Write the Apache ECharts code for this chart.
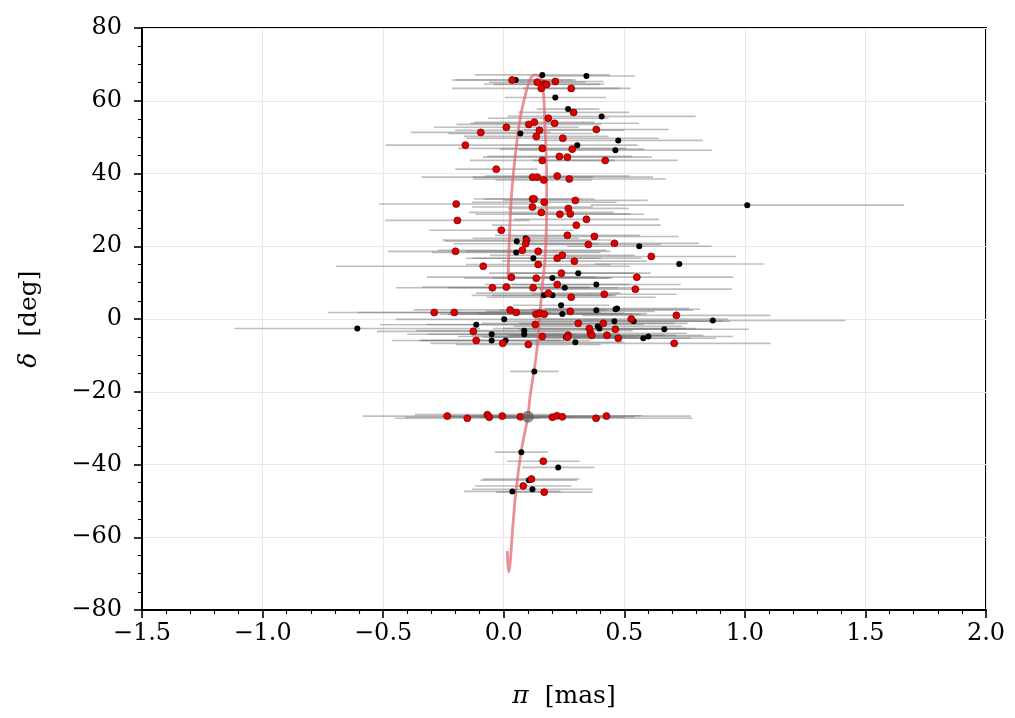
<!DOCTYPE html>
<html>
<head>
<meta charset="utf-8">
<script src="https://cdn.jsdelivr.net/npm/echarts@6/dist/echarts.min.js"></script>
<style>
  html, body { margin: 0; padding: 0; background: #fff; }
  #chart { width: 1015px; height: 718px; }
</style>
</head>
<body>
<div id="chart"></div>
<script>
// [parallax, declination, parallax error]
const blackStars = [
  [0.05, 65.7, 0.25], [0.16, 67.1, 0.28], [0.343, 66.8, 0.20], [0.214, 60.9, 0.21],
  [0.267, 57.7, 0.13], [0.406, 55.7, 0.39], [0.069, 51.0, 0.30], [0.475, 49.1, 0.35],
  [0.305, 47.8, 0.25], [0.463, 46.4, 0.40], [0.091, 22.2, 0.22], [0.054, 21.4, 0.30],
  [0.562, 20.0, 0.30], [0.052, 18.3, 0.35], [0.123, 16.7, 0.28], [0.728, 15.1, 0.35],
  [0.309, 12.6, 0.30], [0.202, 11.3, 0.25], [0.384, 9.5, 0.35], [0.253, 8.6, 0.30],
  [0.167, 6.5, 0.30], [0.202, 6.5, 0.25], [0.238, 3.8, 0.20], [0.243, 1.4, 0.35],
  [0.384, 2.4, 0.40], [0.464, 2.7, 0.35], [0.47, 2.9, 0.30], [0.539, -0.6, 0.40],
  [0.459, -0.6, 0.45], [-0.607, -2.6, 0.51], [-0.114, -1.6, 0.40], [0.002, -0.1, 0.45],
  [0.39, -2.0, 0.35], [0.397, -2.6, 0.40], [0.666, -2.8, 0.35], [-0.05, -4.2, 0.35],
  [0.085, -3.2, 0.45], [0.085, -4.2, 0.40], [0.258, -5.0, 0.30], [0.579, -5.3, 0.30],
  [0.6, -4.8, 0.35], [-0.05, -5.9, 0.30], [0.008, -5.9, 0.35], [0.297, -6.4, 0.20],
  [0.127, -14.4, 0.10], [0.867, -0.4, 0.55], [1.01, 31.3, 0.65], [0.073, -36.6, 0.11],
  [0.226, -40.8, 0.15], [0.104, -44.3, 0.20], [0.119, -46.8, 0.25], [0.036, -47.4, 0.20]
];

const redStars = [
  [0.035, 65.7, 0.25], [0.139, 65.1, 0.20], [0.167, 64.6, 0.25], [0.178, 64.5, 0.22],
  [0.214, 65.3, 0.20], [0.156, 63.4, 0.37], [0.28, 63.4, 0.20], [0.29, 56.8, 0.23],
  [0.185, 55.2, 0.25], [0.104, 53.5, 0.30], [0.127, 54.1, 0.25], [0.211, 53.8, 0.35],
  [0.011, 52.7, 0.30], [-0.095, 51.3, 0.29], [0.148, 51.9, 0.35], [0.135, 50.2, 0.30],
  [0.384, 52.1, 0.30], [0.245, 49.7, 0.40], [-0.159, 47.8, 0.33], [0.284, 46.7, 0.30],
  [0.16, 46.9, 0.35], [0.231, 44.7, 0.30], [0.264, 44.5, 0.35], [0.16, 43.6, 0.30],
  [0.421, 43.6, 0.30], [-0.031, 41.2, 0.17], [0.12, 39.0, 0.25], [0.139, 39.0, 0.48],
  [0.166, 38.2, 0.20], [0.222, 39.3, 0.30], [0.272, 38.5, 0.40], [-0.197, 31.6, 0.32],
  [0.12, 33.0, 0.20], [0.126, 33.0, 0.25], [0.297, 32.6, 0.30], [0.119, 30.8, 0.25],
  [0.168, 32.1, 0.30], [0.268, 30.4, 0.25], [0.156, 29.3, 0.30], [0.233, 28.8, 0.35],
  [0.276, 28.9, 0.25], [-0.192, 27.1, 0.30], [0.343, 27.4, 0.30], [0.301, 25.8, 0.35],
  [-0.01, 24.4, 0.30], [0.264, 23.0, 0.30], [0.376, 22.7, 0.35], [0.095, 21.7, 0.35],
  [0.091, 20.7, 0.30], [0.351, 20.5, 0.30], [0.459, 20.8, 0.35], [-0.2, 18.6, 0.28],
  [0.077, 18.9, 0.35], [0.143, 18.6, 0.30], [0.222, 16.7, 0.35], [0.243, 17.5, 0.30],
  [0.293, 15.9, 0.30], [0.612, 17.2, 0.35], [-0.085, 14.5, 0.61], [0.143, 15.0, 0.30],
  [0.239, 12.6, 0.30], [0.032, 11.5, 0.35], [0.135, 11.2, 0.30], [0.552, 11.5, 0.40],
  [0.222, 9.5, 0.30], [-0.047, 8.6, 0.40], [0.011, 8.8, 0.35], [0.122, 8.6, 0.35],
  [0.546, 8.2, 0.40], [0.417, 6.8, 0.30], [0.185, 7.1, 0.30], [0.28, 6.0, 0.35],
  [-0.288, 1.8, 0.44], [-0.205, 1.8, 0.40], [0.027, 2.5, 0.40], [0.052, 1.8, 0.35],
  [0.134, 1.3, 0.40], [0.149, 1.6, 0.35], [0.168, 1.3, 0.40], [0.276, 2.1, 0.35],
  [0.716, 1.0, 0.39], [0.529, 0.0, 0.40], [0.131, -1.5, 0.45], [0.309, -1.2, 0.40],
  [0.413, -1.2, 0.35], [0.355, -2.6, 0.40], [0.463, -2.8, 0.40], [-0.126, -3.4, 0.40],
  [0.16, -4.8, 0.35], [0.267, -4.5, 0.40], [0.264, -5.0, 0.35], [0.36, -3.9, 0.40],
  [0.365, -4.5, 0.35], [0.428, -4.5, 0.40], [0.475, -5.3, 0.30], [0.707, -6.7, 0.40],
  [-0.114, -5.9, 0.35], [-0.004, -6.7, 0.30], [0.102, -7.0, 0.30], [-0.234, -26.7, 0.35],
  [-0.151, -27.3, 0.30], [-0.068, -26.3, 0.30], [-0.06, -27.0, 0.35], [-0.006, -26.7, 0.25],
  [0.069, -26.9, 0.30], [0.202, -27.0, 0.30], [0.221, -26.6, 0.35], [0.243, -26.9, 0.30],
  [0.383, -27.3, 0.40], [0.426, -26.7, 0.35], [0.164, -39.1, 0.15], [0.115, -44.0, 0.20],
  [0.081, -45.9, 0.20], [0.168, -47.6, 0.20]
];

// expected parallax track vs declination
const trackPoints = [
  [0.015, -63.8], [0.020, -69.6], [0.040, -55.3], [0.047, -49.8], [0.072, -36.6],
  [0.100, -26.9], [0.109, -21.4], [0.134, -10.4], [0.148, -1.1], [0.158, 8.0],
  [0.171, 16.2], [0.178, 30.0], [0.178, 39.0], [0.171, 52.8], [0.158, 65.7],
  [0.130, 67.1], [0.109, 65.7], [0.075, 57.5], [0.054, 48.4], [0.033, 34.6],
  [0.023, 20.9], [0.019, 11.5], [0.023, 10.7]
];

const clusterPoint = [[0.100, -26.9]];

const serif = "'DejaVu Serif', 'Liberation Serif', serif";
const minus = (s) => s.replace('-', '\u2212');

function errorBars(data) {
  return {
    type: 'custom',
    data: data,
    silent: true,
    z: 2,
    renderItem: function (params, api) {
      const x = api.value(0), y = api.value(1), e = api.value(2);
      const a = api.coord([x - e, y]);
      const b = api.coord([x + e, y]);
      return {
        type: 'line',
        shape: { x1: a[0], y1: a[1], x2: b[0], y2: b[1] },
        style: { stroke: 'rgba(110,110,110,0.45)', lineWidth: 1.6 }
      };
    }
  };
}

const nameStyle = {
  fontFamily: serif, fontSize: 25, color: '#000',
  rich: { i: { fontFamily: serif, fontSize: 25, fontStyle: 'italic', color: '#000' } }
};

const chart = echarts.init(document.getElementById('chart'));
chart.setOption({
  animation: false,
  backgroundColor: '#fff',
  grid: { left: 142, right: 29, top: 28, bottom: 108, show: true, borderColor: '#000', borderWidth: 2 },
  xAxis: {
    type: 'value', min: -1.5, max: 2.0, interval: 0.5,
    name: '{i|π}  [mas]', nameLocation: 'middle', nameGap: 74,
    nameTextStyle: nameStyle,
    axisLine: { show: true, onZero: false, lineStyle: { color: '#000', width: 2 } },
    axisTick: { show: true, length: 8, lineStyle: { color: '#000', width: 1.6 } },
    minorTick: { show: true, splitNumber: 5, length: 4, lineStyle: { color: '#000', width: 1.1 } },
    axisLabel: { fontFamily: serif, fontSize: 24, color: '#000', margin: 12,
      formatter: (v) => minus(v.toFixed(1)) },
    splitLine: { show: true, lineStyle: { color: '#e8e8e8', width: 1 } }
  },
  yAxis: {
    type: 'value', min: -80, max: 80, interval: 20,
    name: '{i|δ}  [deg]', nameLocation: 'middle', nameGap: 100,
    nameTextStyle: nameStyle,
    axisLine: { show: true, onZero: false, lineStyle: { color: '#000', width: 2 } },
    axisTick: { show: true, length: 8, lineStyle: { color: '#000', width: 1.6 } },
    minorTick: { show: true, splitNumber: 4, length: 4, lineStyle: { color: '#000', width: 1.1 } },
    axisLabel: { fontFamily: serif, fontSize: 24, color: '#000', margin: 20,
      formatter: (v) => minus(String(v)) },
    splitLine: { show: true, lineStyle: { color: '#e8e8e8', width: 1 } }
  },
  series: [
    errorBars(blackStars),
    errorBars(redStars),
    {
      type: 'line', data: trackPoints, smooth: 0.4, showSymbol: false, z: 3,
      lineStyle: { color: 'rgba(228,100,108,0.72)', width: 2.8 }
    },
    {
      type: 'scatter', data: blackStars, symbolSize: 6, z: 4,
      itemStyle: { color: '#000', opacity: 1 }
    },
    {
      type: 'scatter', data: redStars, symbolSize: 7, z: 5,
      itemStyle: { color: '#e00000', borderColor: '#700000', borderWidth: 0.7, opacity: 1 }
    },
    {
      type: 'scatter', data: clusterPoint, symbolSize: 12, z: 6,
      itemStyle: { color: 'rgba(90,90,90,0.85)' }
    }
  ]
});
</script>
</body>
</html>
